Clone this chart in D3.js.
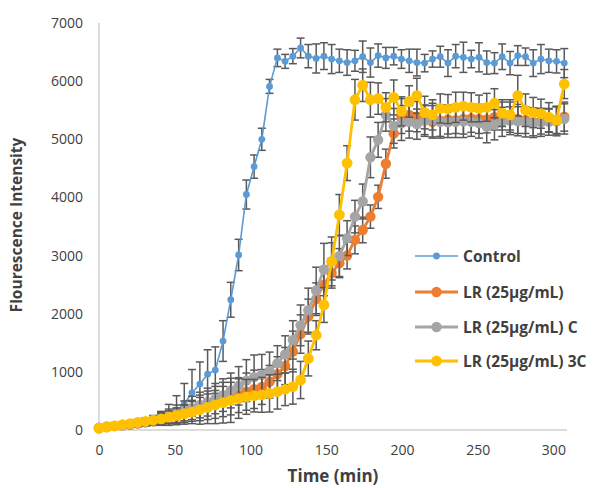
<!DOCTYPE html>
<html>
<head>
<meta charset="utf-8">
<script src="https://cdn.jsdelivr.net/npm/d3@7"></script>
<style>
  html, body { margin: 0; padding: 0; background: #ffffff; }
  svg { display: block; }
  text { font-family: "Open Sans", "Liberation Sans", sans-serif; fill: #404040; }
</style>
</head>
<body>
<svg id="chart" width="599" height="488"></svg>
<script>
// Sampling times (min)
const times = [0, 5.1, 10.2, 15.4, 20.5, 25.6, 30.7, 35.8, 41, 46.1, 51.2, 56.3, 61.4, 66.6, 71.7, 76.8,
  81.9, 87, 92.2, 97.3, 102.4, 107.5, 112.6, 117.8, 122.9, 128, 133.1, 138.2, 143.4, 148.5, 153.6,
  158.7, 163.8, 169, 174.1, 179.2, 184.3, 189.4, 194.6, 199.7, 204.8, 209.9, 215, 220.2, 225.3,
  230.4, 235.5, 240.6, 245.8, 250.9, 256, 261.1, 266.2, 271.4, 276.5, 281.6, 286.7, 291.8, 297,
  302.1, 307.2];

// Series names
const seriesNames = ["Control", "LR (25µg/mL)", "LR (25µg/mL) C", "LR (25µg/mL) 3C"];

// Mean fluorescence per series
const controlValues = [50, 60, 70, 80, 100, 110, 130, 160, 200, 260, 340, 450, 640, 790, 960, 1030,
  1530, 2240, 3010, 4050, 4530, 5000, 5910, 6400, 6340, 6430, 6570, 6430, 6390, 6430, 6380,
  6350, 6320, 6350, 6420, 6320, 6440, 6400, 6430, 6380, 6350, 6320, 6310, 6380, 6420, 6310,
  6430, 6410, 6380, 6410, 6320, 6310, 6420, 6310, 6440, 6420, 6310, 6380, 6350, 6340, 6310];

const lrValues = [30, 50, 70, 80, 90, 110, 130, 150, 180, 210, 240, 280, 320, 360, 400, 440,
  490, 540, 600, 660, 700, 740, 830, 960, 1100, 1350, 1650, 1950, 2250, 2500, 2700,
  2870, 3000, 3270, 3440, 3670, 4010, 4580, 5100, 5400, 5420, 5390, 5330, 5300, 5320, 5340,
  5330, 5350, 5360, 5350, 5340, 5380, 5400, 5380, 5350, 5330, 5300, 5310, 5320, 5330, 5390];

const lrCValues = [40, 60, 70, 80, 100, 120, 140, 170, 200, 240, 280, 330, 380, 430, 480, 540,
  600, 680, 760, 850, 910, 950, 1010, 1150, 1300, 1550, 1800, 2060, 2400, 2760, 2900,
  2990, 3300, 3670, 3930, 4690, 4990, 5420, 5230, 5280, 5300, 5260, 5320, 5330, 5300, 5290,
  5300, 5310, 5300, 5280, 5220, 5250, 5300, 5320, 5310, 5300, 5280, 5290, 5300, 5310, 5350];

const lr3CValues = [30, 50, 70, 90, 110, 130, 150, 170, 190, 220, 250, 280, 310, 350, 390, 430,
  470, 510, 540, 570, 590, 605, 630, 660, 700, 745, 860, 1230, 1630, 2150, 2900,
  3700, 4590, 5680, 5930, 5680, 5700, 5550, 5720, 5480, 5650, 5750, 5460, 5420, 5530, 5520,
  5550, 5570, 5550, 5530, 5550, 5620, 5450, 5420, 5750, 5500, 5460, 5440, 5380, 5330, 5950];

// Standard deviations per series
const controlErr = [30, 30, 30, 40, 40, 50, 60, 80, 120, 180, 250, 350, 400, 380, 420, 400,
  350, 300, 270, 250, 200, 190, 120, 150, 120, 130, 170, 200, 250, 230, 250,
  200, 220, 180, 270, 250, 200, 180, 150, 160, 200, 230, 150, 140, 180, 230,
  200, 260, 150, 250, 200, 180, 220, 200, 170, 150, 230, 250, 200, 200, 250];

const lrErr = [20, 30, 30, 40, 40, 50, 60, 70, 80, 100, 120, 150, 170, 200, 220, 240,
  260, 280, 300, 320, 330, 300, 280, 300, 320, 350, 330, 300, 280, 300, 260,
  250, 230, 240, 220, 200, 200, 250, 250, 300, 280, 260, 250, 280, 270, 250,
  230, 260, 240, 250, 230, 220, 240, 260, 250, 230, 240, 220, 200, 230, 250];

const lrCErr = [20, 30, 40, 40, 50, 60, 70, 80, 100, 120, 150, 170, 200, 220, 240, 260,
  280, 300, 330, 360, 380, 350, 330, 300, 320, 330, 350, 380, 400, 450, 420,
  350, 300, 280, 300, 350, 300, 280, 300, 300, 280, 260, 270, 290, 280, 260,
  270, 280, 250, 260, 280, 260, 250, 240, 250, 260, 250, 240, 230, 250, 260];

const lr3CErr = [20, 20, 30, 30, 40, 50, 60, 70, 90, 110, 130, 150, 200, 250, 280, 320,
  350, 380, 340, 300, 280, 300, 320, 300, 280, 300, 320, 300, 250, 300, 320,
  350, 300, 350, 280, 300, 270, 250, 300, 250, 270, 300, 280, 260, 250, 250,
  260, 240, 250, 230, 240, 250, 230, 260, 350, 280, 260, 250, 250, 240, 250];

// Axis ticks
const xTicks = [0, 50, 100, 150, 200, 250, 300];
const yTicks = [0, 1000, 2000, 3000, 4000, 5000, 6000, 7000];

const series = [
  { name: seriesNames[0], values: controlValues, err: controlErr, color: "#5B9BD5", lw: 1.6, r: 3.4 },
  { name: seriesNames[1], values: lrValues, err: lrErr, color: "#ED7D31", lw: 2.8, r: 5.2 },
  { name: seriesNames[2], values: lrCValues, err: lrCErr, color: "#A5A5A5", lw: 2.8, r: 5.2 },
  { name: seriesNames[3], values: lr3CValues, err: lr3CErr, color: "#FFC000", lw: 2.8, r: 5.4 }
];

const svg = d3.select("#chart");

const x = d3.scaleLinear().domain([0, 309]).range([99, 567]);
const y = d3.scaleLinear().domain([0, 7000]).range([430, 23]);

// Axis lines
svg.append("line")
  .attr("x1", x(0)).attr("x2", x(0))
  .attr("y1", y(7000)).attr("y2", y(0))
  .attr("stroke", "#D0D0D0").attr("stroke-width", 1.5);
svg.append("line")
  .attr("x1", x(0)).attr("x2", x.range()[1])
  .attr("y1", y(0)).attr("y2", y(0))
  .attr("stroke", "#D0D0D0").attr("stroke-width", 1.5);

// Tick labels
const yAxis = d3.axisLeft(y).tickValues(yTicks).tickSize(0).tickPadding(16).tickFormat(d3.format("d"));
const gy = svg.append("g").attr("transform", `translate(${x(0)},0)`).call(yAxis);
gy.select(".domain").remove();
gy.selectAll("text").style("font-size", "14px").style("font-family", "\"Open Sans\", sans-serif").attr("fill", "#404040");

const xAxis = d3.axisBottom(x).tickValues(xTicks).tickSize(0).tickPadding(15).tickFormat(d3.format("d"));
const gx = svg.append("g").attr("transform", `translate(0,${y(0)})`).call(xAxis);
gx.select(".domain").remove();
gx.selectAll("text").style("font-size", "14px").style("font-family", "\"Open Sans\", sans-serif").attr("fill", "#404040");

// Axis titles
svg.append("text")
  .attr("x", 333).attr("y", 482)
  .attr("text-anchor", "middle")
  .style("font-size", "17px").style("font-weight", "bold")
  .text("Time (min)");
svg.append("text")
  .attr("transform", "translate(22,225) rotate(-90)")
  .attr("text-anchor", "middle")
  .style("font-size", "15.5px").style("font-weight", "bold")
  .text("Flourescence Intensity");

const line = d3.line().x((d, i) => x(times[i])).y(d => y(d));

// Series: error bars, line, markers
series.forEach(s => {
  const g = svg.append("g");
  const eb = g.append("g").attr("stroke", "#595959").attr("stroke-width", 1.5);
  s.values.forEach((v, i) => {
    const cx = x(times[i]);
    const top = y(v + s.err[i]);
    const bot = y(Math.max(0, v - s.err[i]));
    eb.append("line").attr("x1", cx).attr("x2", cx).attr("y1", top).attr("y2", bot);
    eb.append("line").attr("x1", cx - 4).attr("x2", cx + 4).attr("y1", top).attr("y2", top);
    eb.append("line").attr("x1", cx - 4).attr("x2", cx + 4).attr("y1", bot).attr("y2", bot);
  });
  g.append("path").datum(s.values)
    .attr("d", line)
    .attr("fill", "none")
    .attr("stroke", s.color)
    .attr("stroke-width", s.lw)
    .attr("stroke-linejoin", "round");
  g.selectAll("circle").data(s.values).join("circle")
    .attr("cx", (d, i) => x(times[i]))
    .attr("cy", d => y(d))
    .attr("r", s.r)
    .attr("fill", s.color);
});

// Legend
const legend = svg.append("g");
const legendY = [256, 292, 327, 361];
series.forEach((s, i) => {
  const ly = legendY[i];
  legend.append("line")
    .attr("x1", 415).attr("x2", 458).attr("y1", ly).attr("y2", ly)
    .attr("stroke", s.color).attr("stroke-width", s.lw);
  legend.append("circle").attr("cx", 436.5).attr("cy", ly).attr("r", s.r).attr("fill", s.color);
  legend.append("text")
    .attr("x", 463).attr("y", ly + 5.5)
    .style("font-size", "15.5px").style("font-weight", "bold")
    .text(s.name);
});
</script>
</body>
</html>
